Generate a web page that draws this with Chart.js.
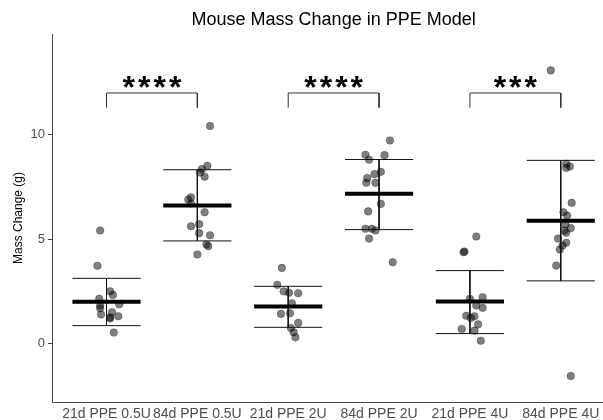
<!DOCTYPE html>
<html>
<head>
<meta charset="utf-8">
<script src="https://cdn.jsdelivr.net/npm/chart.js@4/dist/chart.umd.min.js"></script>
<style>
html,body{margin:0;padding:0;background:#fff;}
</style>
</head>
<body>
<canvas id="chartMasa" width="603" height="420"></canvas>
<script>
//----Datos
const categorias = ["21d PPE 0.5U","84d PPE 0.5U","21d PPE 2U","84d PPE 2U","21d PPE 4U","84d PPE 4U"];

const masa1 = [5.41,3.72,2.50,2.33,2.14,1.82,1.69,1.88,1.39,1.50,1.26,1.31,1.20,0.53];
const jit1  = [-0.07,-0.10,0.04,0.07,-0.08,-0.07,-0.07,0.14,-0.06,0.06,0.04,0.13,0.04,0.08];

const masa2 = [10.4,8.50,8.34,8.18,7.98,6.99,6.89,6.70,6.28,5.71,5.61,5.28,5.18,4.74,4.66,4.26];
const jit2  = [0.14,0.11,0.05,0.03,0.08,-0.07,-0.10,-0.07,0.08,0.02,-0.07,0.02,0.14,0.10,0.12,0.00];

const masa3 = [3.62,2.81,2.50,2.43,2.41,1.93,1.42,1.45,0.99,0.75,0.54,0.30];
const jit3  = [-0.07,-0.12,-0.05,0.01,0.11,0.04,-0.08,0.02,0.11,0.03,0.06,0.08];

const masa4 = [9.71,9.03,9.01,8.79,8.21,8.10,7.91,7.69,7.69,6.68,6.32,5.49,5.49,5.41,5.02,3.89];
const jit4  = [0.12,-0.15,0.06,-0.11,0.02,-0.05,-0.13,-0.14,-0.04,0.02,-0.12,-0.15,-0.08,-0.04,-0.11,0.15];

const masa5 = [5.12,4.37,4.40,2.14,2.22,1.82,1.71,1.33,1.31,1.23,0.92,0.70,0.62,0.14];
const jit5  = [0.07,-0.07,-0.06,0.00,0.14,0.07,0.14,-0.04,0.05,0.01,0.09,-0.09,0.05,0.12];

const masa6 = [13.06,8.60,8.47,8.40,6.73,6.28,6.12,5.70,5.52,5.41,5.30,5.02,4.82,4.69,4.50,3.73,-1.55];
const jit6  = [-0.11,0.06,0.10,0.06,0.12,0.03,0.07,0.05,0.11,0.04,0.06,-0.03,0.06,0.02,-0.01,-0.05,0.11];

const medias = [2.00,6.60,1.77,7.16,2.01,5.87];
const sdInf  = [0.86,4.91,0.78,5.45,0.48,3.00];
const sdSup  = [3.12,8.31,2.74,8.80,3.49,8.76];

const comparaciones = [[0,1],[2,3],[4,5]];
const signos = ["****","****","***"];
const corcheteAlto = 11.98;
const corcheteBajo = 11.28;
const signoY = 12.5;

const ticksY = [0,5,10];

const masas = [masa1,masa2,masa3,masa4,masa5,masa6];
const jitters = [jit1,jit2,jit3,jit4,jit5,jit6];

//----Construccion de los datasets
const anchoBarra = 0.375;

const puntos = [];
masas.forEach((arr, g) => {
    arr.forEach((v, i) => puntos.push({x: g + 1 + jitters[g][i], y: v}));
});

const lineasError = [];
const lineasMedia = [];
medias.forEach((m, g) => {
    const c = g + 1;
    lineasError.push({x: c - anchoBarra, y: sdSup[g]}, {x: c + anchoBarra, y: sdSup[g]}, {x: c, y: null});
    lineasError.push({x: c, y: sdSup[g]}, {x: c, y: sdInf[g]}, {x: c, y: null});
    lineasError.push({x: c - anchoBarra, y: sdInf[g]}, {x: c + anchoBarra, y: sdInf[g]}, {x: c, y: null});
    lineasMedia.push({x: c - anchoBarra, y: m}, {x: c + anchoBarra, y: m}, {x: c, y: null});
});

const corchetes = [];
comparaciones.forEach(p => {
    const a = p[0] + 1, b = p[1] + 1;
    corchetes.push({x: a, y: corcheteBajo}, {x: a, y: corcheteAlto}, {x: b, y: corcheteAlto}, {x: b, y: corcheteBajo}, {x: a, y: null});
});

//----Plugin para titulo y asteriscos
const textos = {
    id: "textos",
    afterDraw(chart) {
        const ctx = chart.ctx;
        const xs = chart.scales.x, ys = chart.scales.y;
        ctx.save();
        ctx.fillStyle = "#000";
        ctx.textAlign = "center";
        ctx.textBaseline = "middle";
        ctx.font = "18px 'Liberation Sans', Arial, sans-serif";
        ctx.fillText("Mouse Mass Change in PPE Model", xs.getPixelForValue(3.5), 20);

        ctx.font = "bold 32px 'Liberation Sans', Arial, sans-serif";
        ctx.textBaseline = "alphabetic";
        const esp = 3;
        ctx.letterSpacing = esp + "px";
        comparaciones.forEach((p, k) => {
            const cx = xs.getPixelForValue((p[0] + p[1]) / 2 + 1);
            const m = ctx.measureText(signos[k]);
            const mid = (m.actualBoundingBoxAscent - m.actualBoundingBoxDescent) / 2;
            ctx.fillText(signos[k], cx + esp / 2, ys.getPixelForValue(signoY) + mid);
        });
        ctx.restore();
    }
};

new Chart(document.getElementById("chartMasa"), {
    type: "scatter",
    data: {
        datasets: [
            {
                label: "Media",
                data: lineasMedia,
                showLine: true,
                spanGaps: false,
                borderColor: "#000",
                borderWidth: 4,
                borderCapStyle: "butt",
                pointRadius: 0,
                order: 0
            },
            {
                label: "SD",
                data: lineasError,
                showLine: true,
                spanGaps: false,
                borderColor: "#111",
                borderWidth: 1,
                pointRadius: 0,
                order: 1
            },
            {
                label: "Corchetes",
                data: corchetes,
                showLine: true,
                spanGaps: false,
                borderColor: "#333",
                borderWidth: 1,
                pointRadius: 0,
                order: 1
            },
            {
                label: "Mass Change",
                data: puntos,
                backgroundColor: "rgba(0,0,0,0.5)",
                borderColor: "rgba(0,0,0,0.35)",
                borderWidth: 0.8,
                pointRadius: 3.8,
                order: 2
            }
        ]
    },
    options: {
        responsive: false,
        animation: false,
        layout: {autoPadding: false, padding: {top: 34, left: 0, right: 0, bottom: 0}},
        plugins: {
            legend: {display: false},
            tooltip: {enabled: false}
        },
        scales: {
            x: {
                type: "linear",
                min: 0.4,
                max: 6.465,
                afterBuildTicks: s => { s.ticks = categorias.map((c, i) => ({value: i + 1})); },
                afterFit: s => { s.height = 18; s.paddingLeft = 0; s.paddingRight = 0; },
                grid: {display: false, drawTicks: false, tickLength: 0},
                border: {display: true, color: "#444", width: 1},
                ticks: {
                    autoSkip: false,
                    maxRotation: 0,
                    padding: 4,
                    color: "#4d4d4d",
                    font: {family: "'Liberation Sans', Arial, sans-serif", size: 14},
                    callback: v => categorias[Math.round(v) - 1]
                }
            },
            y: {
                min: -2.79,
                max: 14.8,
                afterBuildTicks: s => { s.ticks = ticksY.map(v => ({value: v})); },
                afterFit: s => { s.width = 52; },
                grid: {display: true, drawOnChartArea: false, drawTicks: true, tickLength: 4, color: "#444"},
                border: {display: true, color: "#444", width: 1},
                title: {
                    display: true,
                    text: "Mass Change (g)",
                    color: "#000",
                    padding: {top: 11, bottom: 0},
                    font: {family: "'Liberation Sans', Arial, sans-serif", size: 12}
                },
                ticks: {
                    padding: 3,
                    color: "#4d4d4d",
                    font: {family: "'Liberation Sans', Arial, sans-serif", size: 13}
                }
            }
        }
    },
    plugins: [textos]
});
</script>
</body>
</html>
